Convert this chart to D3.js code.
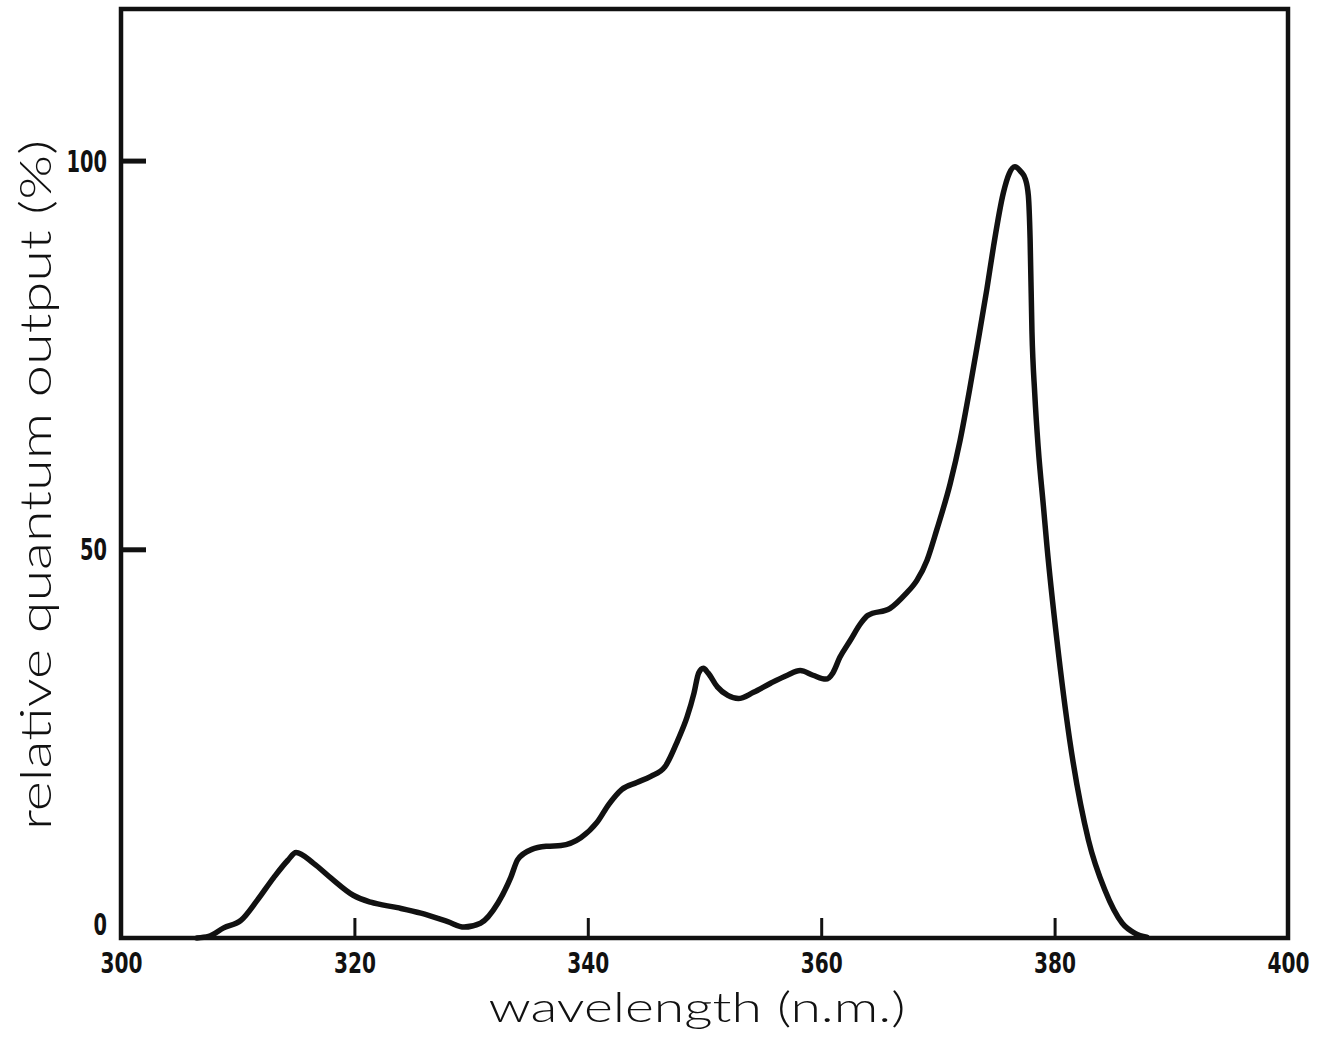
<!DOCTYPE html>
<html>
<head>
<meta charset="utf-8">
<script src="https://cdn.jsdelivr.net/npm/d3@7"></script>
<style>
  html, body { margin: 0; padding: 0; background: #fff; }
  svg { display: block; }
  .tick-label { font-family: "DejaVu Sans", sans-serif; font-stretch: condensed; font-weight: bold; fill: #111; }
  .title { font-family: Lato, "Open Sans", sans-serif; font-weight: 300; fill: #111; }
</style>
</head>
<body>
<script>
// Emission spectrum: wavelength (nm) and relative quantum output (%)
const wavelength = [
  306.5, 307.5, 308.8, 310.3, 311.7, 313.1, 314.3, 315.0, 316.5, 318.0,
  319.9, 321.4, 323.7, 325.7, 328.0, 329.4, 330.8, 332.3, 333.4, 334.0,
  335.2, 336.5, 337.7, 339.4, 340.8, 341.8, 342.9, 344.2, 345.4, 346.6,
  347.7, 348.5, 349.1, 349.5, 349.9, 350.3, 351.1, 352.0, 352.9, 354.2,
  355.7, 357.1, 358.2, 359.3, 360.4, 361.0, 361.6, 362.5, 363.4, 364.0,
  365.9, 367.2, 368.2, 369.07, 369.9, 371.06, 371.9, 372.77, 373.35, 374.2,
  374.77, 375.6, 376.1, 376.6, 377.1, 377.5, 377.75, 377.9, 378.06, 378.3,
  378.6, 379.05, 379.34, 380.2, 381.3, 382.9, 384.3, 385.8, 386.9, 387.9
];
const output = [
  0.0, 0.2, 1.3, 2.3, 4.9, 7.8, 10.0, 11.0, 9.6, 7.7,
  5.5, 4.6, 3.9, 3.2, 2.1, 1.4, 1.9, 4.5, 7.8, 10.1,
  11.4, 11.8, 11.9, 12.9, 14.9, 17.2, 19.1, 20.0, 20.8, 22.0,
  25.4, 28.4, 31.5, 34.1, 34.7, 34.1, 32.3, 31.2, 30.8, 31.6,
  32.8, 33.8, 34.4, 33.8, 33.3, 34.1, 36.1, 38.3, 40.5, 41.5,
  42.4, 44.2, 46.0, 48.6, 52.5, 58.5, 64.0, 71.0, 76.0, 83.5,
  89.0, 95.8, 98.3, 99.2, 98.6, 97.6, 95.5, 90.0, 78.0, 70.0,
  63.0, 55.4, 50.5, 38.3, 25.4, 12.6, 6.2, 1.9, 0.6, 0.1
];
const xTicks = [300, 320, 340, 360, 380, 400];
const yTicks = [0, 50, 100];
const xTitle = "wavelength (n.m.)";
const yTitle = "relative quantum output (%)";

const W = 1323, H = 1039;
const plotLeft = 121, plotRight = 1288, plotTop = 9, plotBottom = 938;

const svg = d3.select("body").append("svg").attr("width", W).attr("height", H);

const x = d3.scaleLinear().domain([300, 400]).range([plotLeft, plotRight]);
const y = d3.scaleLinear().domain([0, 119.5]).range([plotBottom, plotTop]);

// Spectrum curve
const pts = wavelength.map((w, i) => [w, output[i]]);
const line = d3.line().x(d => x(d[0])).y(d => y(d[1])).curve(d3.curveMonotoneX);
svg.append("path")
  .datum(pts)
  .attr("d", line)
  .attr("fill", "none")
  .attr("stroke", "#111")
  .attr("stroke-width", 5.5)
  .attr("stroke-linejoin", "round")
  .attr("stroke-linecap", "round");

// Plot frame
svg.append("rect")
  .attr("x", plotLeft).attr("y", plotTop)
  .attr("width", plotRight - plotLeft).attr("height", plotBottom - plotTop)
  .attr("fill", "none").attr("stroke", "#111").attr("stroke-width", 4.5);

// Y axis: inward ticks at 50 and 100
const yAxis = d3.axisLeft(y).tickValues(yTicks).tickSizeInner(-25).tickSizeOuter(0).tickPadding(14);
const gy = svg.append("g").attr("transform", `translate(${plotLeft},0)`).call(yAxis);
gy.select(".domain").remove();
gy.selectAll(".tick line").attr("stroke", "#111").attr("stroke-width", 5)
  .attr("display", d => d === 0 ? "none" : null);
gy.selectAll(".tick text")
  .attr("class", "tick-label")
  .attr("font-family", null)
  .attr("font-size", 30)
  .attr("dy", d => d === 0 ? "-0.12em" : "0.35em")
  .attr("textLength", d => String(d).length * 13.5)
  .attr("lengthAdjust", "spacingAndGlyphs");

// X axis: short inward ticks at interior values
const xAxis = d3.axisBottom(x).tickValues(xTicks).tickSizeInner(-18).tickSizeOuter(0).tickPadding(16);
const gx = svg.append("g").attr("transform", `translate(0,${plotBottom - 2})`).call(xAxis);
gx.select(".domain").remove();
gx.selectAll(".tick line").attr("stroke", "#111").attr("stroke-width", 3)
  .attr("display", d => (d === 300 || d === 400) ? "none" : null);
gx.selectAll(".tick text")
  .attr("class", "tick-label")
  .attr("font-family", null)
  .attr("font-size", 29)
  .attr("textLength", 42)
  .attr("lengthAdjust", "spacingAndGlyphs");

// Axis titles
svg.append("text")
  .attr("class", "title")
  .attr("x", 697).attr("y", 1022)
  .attr("text-anchor", "middle")
  .attr("font-size", 42)
  .attr("textLength", 417)
  .attr("lengthAdjust", "spacingAndGlyphs")
  .text(xTitle);

svg.append("text")
  .attr("class", "title")
  .attr("transform", "translate(51,485) rotate(-90)")
  .attr("text-anchor", "middle")
  .attr("font-size", 44)
  .attr("textLength", 690)
  .attr("lengthAdjust", "spacingAndGlyphs")
  .text(yTitle);
</script>
</body>
</html>
